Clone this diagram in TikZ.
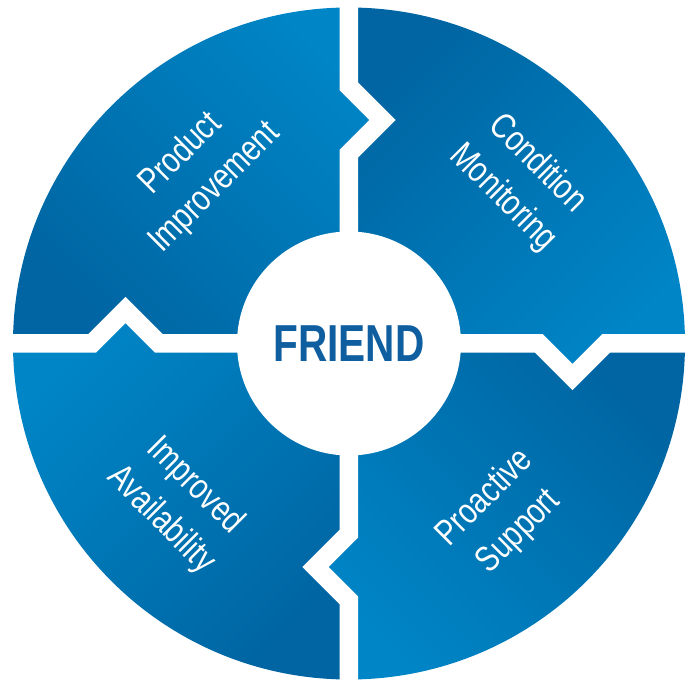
\documentclass[tikz,border=0pt]{standalone}
\usepackage{fontspec}
\setmainfont{Liberation Sans}
\newfontfamily\labelfont[FakeStretch=0.8]{Liberation Sans}
\newfontfamily\hubfont[FakeStretch=0.78]{Liberation Sans}
\definecolor{qlight}{RGB}{0,133,198}
\definecolor{qdark}{RGB}{0,101,162}
\definecolor{hubtext}{RGB}{14,94,160}
\begin{document}
\begin{tikzpicture}[x=1pt,y=1pt,
  gap/.style={draw=white, line width=18.5pt, line join=miter, miter limit=10},
  quad/.style={top color=qlight, bottom color=qdark},
  lbl/.style={text=white, align=center, inner sep=0pt,
    font=\labelfont\fontsize{36}{48}\selectfont},
  hubnode/.style={circle, fill=white, minimum size=224pt, inner sep=0pt,
    text=hubtext, font=\hubfont\bfseries\fontsize{52}{52}\selectfont},
]
\useasboundingbox (-349,-336.5) rectangle (345,343.5);
\def\R{336}
\coordinate (O) at (0,0);
% quadrants (boundaries follow the chevron centre lines)
\shade[quad, shading angle=-45] (O) -- (-190,0) -- (-223.5,33.5) -- (-257,0) -- (-\R,0)
  arc[start angle=180,end angle=90,radius=\R] -- (0,257) -- (33.5,223.5) -- (0,190) -- cycle;
\shade[quad, shading angle=-135] (O) -- (0,190) -- (33.5,223.5) -- (0,257) -- (0,\R)
  arc[start angle=90,end angle=0,radius=\R] -- (257,0) -- (223.5,-33.5) -- (190,0) -- cycle;
\shade[quad, shading angle=135] (O) -- (190,0) -- (223.5,-33.5) -- (257,0) -- (\R,0)
  arc[start angle=0,end angle=-90,radius=\R] -- (0,-257) -- (-33.5,-223.5) -- (0,-190) -- cycle;
\shade[quad, shading angle=45] (O) -- (0,-190) -- (-33.5,-223.5) -- (0,-257) -- (0,-\R)
  arc[start angle=-90,end angle=-180,radius=\R] -- (-257,0) -- (-223.5,33.5) -- (-190,0) -- cycle;
% gaps
\draw[gap] (O) -- (0,190) -- (33.5,223.5) -- (0,257) -- (0,350);
\draw[gap] (O) -- (190,0) -- (223.5,-33.5) -- (257,0) -- (350,0);
\draw[gap] (O) -- (0,-190) -- (-33.5,-223.5) -- (0,-257) -- (0,-350);
\draw[gap] (O) -- (-190,0) -- (-223.5,33.5) -- (-257,0) -- (-355,0);
% hub
\node[hubnode] (hub) at (O) {FRIEND};
% labels
\node[lbl, rotate=45] (pi) at (-151,172.5) {Product\\Improvement};
\node[lbl, rotate=-45] (cm) at (171,162.5) {Condition\\Monitoring};
\node[lbl, rotate=-45] (ia) at (-171,-159.5) {Improved\\Availability};
\node[lbl, rotate=45] (ps) at (153,-171.5) {Proactive\\Support};
\end{tikzpicture}
\end{document}
